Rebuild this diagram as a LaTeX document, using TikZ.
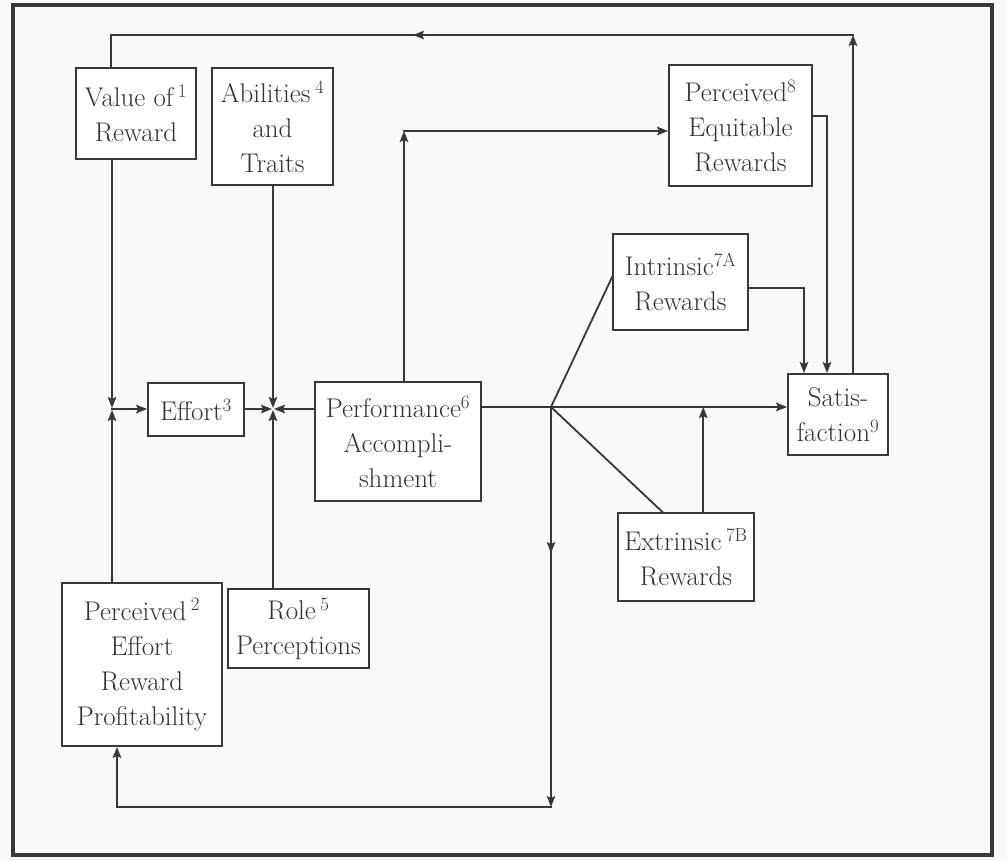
\documentclass[tikz,border=0pt]{standalone}
\usetikzlibrary{arrows.meta,decorations.markings,calc}
\definecolor{ln}{HTML}{383838}
\definecolor{txt}{HTML}{333333}
\definecolor{paper}{HTML}{FAFAF8}
\tikzset{
  tp/.tip={Stealth[length=11pt,width=8.5pt,inset=2pt]},
  box/.style={draw=ln, line width=1.8pt, fill=white, align=center, inner sep=0pt,
              text=txt, font=\fontsize{27}{35}\selectfont},
  conn/.style={draw=ln, line width=1.8pt, line cap=rect},
  tipat/.style={postaction={decorate, decoration={markings,
                mark=at position #1 with {\arrow{tp}}}}}
}
\begin{document}
\begin{tikzpicture}[x=1pt,y=-1pt]
\fill[paper] (0,0) rectangle (1007,861);
\useasboundingbox (0,0) rectangle (1007,861);
% outer frame
\draw[ln, line width=4pt] (13,5) rectangle (992,855);

% boxes
\node[box, minimum width=120pt, minimum height=91pt]  (val)    at (136,113.5) {Value of\,\textsuperscript{1}\\Reward};
\node[box, minimum width=121pt, minimum height=117pt] (abil)   at (272.5,126.5) {Abilities\,\textsuperscript{4}\\and\\Traits};
\node[box, minimum width=96pt,  minimum height=53pt]  (effort) at (196,409.5) {Effort\textsuperscript{3}};
\node[box, minimum width=166pt, minimum height=119pt] (perf)   at (398,441.5) {Performance\textsuperscript{6}\\Accompli-\\shment};
\node[box, minimum width=160pt, minimum height=163pt] (ppr)    at (142,664.5) {Perceived\,\textsuperscript{2}\\Effort\\Reward\\Profitability};
\node[box, minimum width=141pt, minimum height=79pt]  (role)   at (298.5,628.5) {Role\,\textsuperscript{5}\\Perceptions};
\node[box, minimum width=143pt, minimum height=121pt] (equit)  at (740.5,125.5) {Perceived\textsuperscript{8}\\Equitable\\Rewards};
\node[box, minimum width=135pt, minimum height=96pt]  (intr)   at (680.5,282) {Intrinsic\textsuperscript{7A}\\Rewards};
\node[box, minimum width=100pt, minimum height=81pt]  (sat)    at (838,414.5) {Satis-\\faction\textsuperscript{9}};
\node[box, minimum width=136pt, minimum height=88pt]  (extr)   at (686,557) {Extrinsic\,\textsuperscript{7B}\\Rewards};

% bends and junctions
\coordinate (topR) at (853,35);
\coordinate (topL) at (111,35);
\coordinate (j1) at (112,409);
\coordinate (j2) at (273,409);
\coordinate (j3) at (551,407);
\coordinate (pu) at (404,131);
\coordinate (bR) at (551,807);
\coordinate (bL) at (117,807);
\coordinate (ic) at (804,288);
\coordinate (ec) at (827,116);
\coordinate (ex) at ($(extr.north west)!0.625!(extr.north east)$);

% feedback from satisfaction to value of reward
\draw[conn, -{tp}] (topR |- sat.north) -- (topR);
\draw[conn, tipat=440pt] (topR) -- (topL) -- (topL |- val.north);

% inputs to effort
\draw[conn, -{tp}, shorten >=1pt] (j1 |- val.south) -- (j1);
\draw[conn, -{tp}, shorten >=1pt] (j1 |- ppr.north) -- (j1);
\draw[conn, -{tp}] (j1) -- (effort.west |- j1);

% inputs meeting between effort and performance
\draw[conn, -{tp}, shorten >=1pt] (j2 |- abil.south) -- (j2);
\draw[conn, -{tp}, shorten >=1pt] (effort.east |- j2) -- (j2);
\draw[conn, -{tp}, shorten >=1pt] (perf.west |- j2) -- (j2);
\draw[conn, -{tp}, shorten >=1pt] (j2 |- role.north) -- (j2);

% performance to perceived equitable rewards
\draw[conn, -{tp}] (pu |- perf.north) -- (pu);
\draw[conn, -{tp}] (pu) -- (equit.west |- pu);

% performance outcomes
\draw[conn] (perf.east |- j3) -- (j3);
\draw[conn] (j3) -- ([yshift=5pt]intr.west);
\draw[conn, -{tp}] (j3) -- (sat.west |- j3);
\draw[conn] (j3) -- ($(extr.north west)!0.33!(extr.north east)$);
\draw[conn, -{tp}] (ex) -- (ex |- j3);
\draw[conn, -{tp}, tipat=146pt] (j3) -- (bR);
\draw[conn, -{tp}] (bR) -- (bL) -- (bL |- ppr.south);

% rewards to satisfaction
\draw[conn, -{tp}] ([yshift=-6pt]intr.east) -- (ic) -- (ic |- sat.north);
\draw[conn, -{tp}] ([yshift=9.5pt]equit.east) -- (ec) -- (ec |- sat.north);
\end{tikzpicture}
\end{document}
